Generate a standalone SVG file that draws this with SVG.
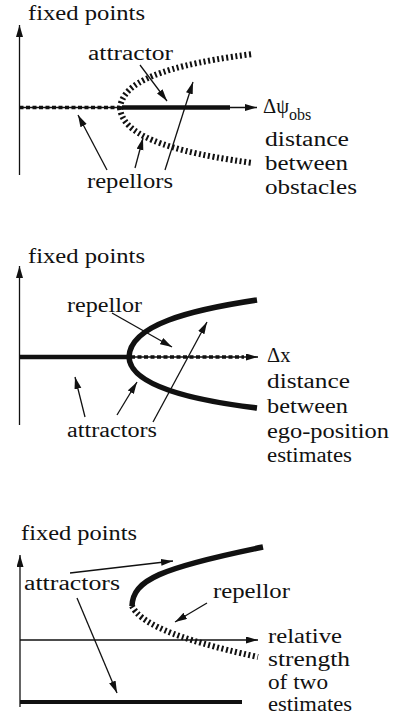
<svg xmlns="http://www.w3.org/2000/svg" width="395" height="718" viewBox="0 0 395 718">
<style>
text{font-family:"Liberation Serif","Times New Roman",serif;font-size:20.5px;fill:#111}
.ptr{stroke:#111;stroke-width:1.3;fill:none;marker-end:url(#ah)}
.axa{stroke:#111;stroke-width:1.3;fill:none;marker-end:url(#ah)}
.att{stroke:#111;stroke-width:4.5;fill:none}
.dot{stroke:#111;stroke-width:3.5;fill:none;stroke-dasharray:4 2.5}
.hat{stroke:#111;stroke-width:6;fill:none;stroke-dasharray:2 2.6}
.sub{font-size:16px}
</style>
<defs>
<marker id="ah" markerUnits="userSpaceOnUse" markerWidth="13" markerHeight="8" refX="12" refY="3.5" orient="auto">
<path d="M0,0 L12,3.5 L0,7 z" fill="#111"/>
</marker>
</defs>

<!-- Panel 1 -->
<g id="p1-axes">
<line class="axa" x1="19.5" y1="175" x2="19.5" y2="25"/>
<line class="axa" x1="19.5" y1="107.5" x2="257" y2="107.5"/>
</g>
<g id="p1-curves">
<line class="dot" x1="19.5" y1="107.5" x2="120" y2="107.5"/>
<line class="att" x1="122" y1="107.5" x2="230" y2="107.5"/>
<path class="hat" d="M120,108 C122,90 140,68 253,54"/>
<path class="hat" d="M120,108 C122,126 140,148 253,163"/>
</g>
<g id="p1-labels">
<text x="28" y="20" textLength="117" lengthAdjust="spacingAndGlyphs">fixed points</text>
<text x="88" y="60" textLength="85" lengthAdjust="spacingAndGlyphs">attractor</text>
<text x="87" y="188" textLength="86" lengthAdjust="spacingAndGlyphs">repellors</text>
<text x="263" y="113">Δψ<tspan class="sub" dy="7">obs</tspan></text>
<text x="265" y="146" textLength="84" lengthAdjust="spacingAndGlyphs">distance</text>
<text x="265" y="170" textLength="83" lengthAdjust="spacingAndGlyphs">between</text>
<text x="265" y="194" textLength="92" lengthAdjust="spacingAndGlyphs">obstacles</text>
</g>

<!-- Panel 2 -->
<g id="p2-axes">
<line class="axa" x1="19.5" y1="425" x2="19.5" y2="266"/>
<line class="axa" x1="19.5" y1="357" x2="258" y2="357"/>
</g>
<g id="p2-curves">
<line class="att" x1="19.5" y1="357" x2="129" y2="357"/>
<line class="dot" x1="131" y1="357" x2="244" y2="357"/>
<path class="att" style="stroke-width:5.5" d="M257,300 C190,310 130,325 129,357 C130,385 190,400 257,408"/>
</g>
<g id="p2-labels">
<text x="28" y="263" textLength="117" lengthAdjust="spacingAndGlyphs">fixed points</text>
<text x="67" y="312" textLength="75" lengthAdjust="spacingAndGlyphs">repellor</text>
<text x="67" y="437" textLength="90" lengthAdjust="spacingAndGlyphs">attractors</text>
<text x="267" y="362">Δx</text>
<text x="267" y="388" textLength="83" lengthAdjust="spacingAndGlyphs">distance</text>
<text x="267" y="413" textLength="81" lengthAdjust="spacingAndGlyphs">between</text>
<text x="267" y="438" textLength="122" lengthAdjust="spacingAndGlyphs">ego-position</text>
<text x="267" y="462" textLength="85" lengthAdjust="spacingAndGlyphs">estimates</text>
</g>

<!-- Panel 3 -->
<g id="p3-axes">
<line class="axa" x1="20" y1="707" x2="20" y2="555"/>
<line class="axa" x1="20" y1="640" x2="258" y2="640"/>
</g>
<g id="p3-curves">
<line class="att" style="stroke-width:4" x1="20" y1="702" x2="242" y2="702"/>
<path class="att" style="stroke-width:5.5" d="M132,606 C133,580 160,568 263,547"/>
<path class="hat" d="M132,606 C140,622 170,638 258,657"/>
</g>
<g id="p3-labels">
<text x="21" y="540" textLength="116" lengthAdjust="spacingAndGlyphs">fixed points</text>
<text x="24" y="590" textLength="96" lengthAdjust="spacingAndGlyphs">attractors</text>
<text x="213" y="598" textLength="77" lengthAdjust="spacingAndGlyphs">repellor</text>
<text x="268" y="643" textLength="74" lengthAdjust="spacingAndGlyphs">relative</text>
<text x="268" y="666" textLength="82" lengthAdjust="spacingAndGlyphs">strength</text>
<text x="268" y="689" textLength="60" lengthAdjust="spacingAndGlyphs">of two</text>
<text x="268" y="711" textLength="84" lengthAdjust="spacingAndGlyphs">estimates</text>
</g>

<g id="connectors">
<line class="ptr" x1="140" y1="65" x2="167" y2="101"/>
<line class="ptr" x1="107" y1="170" x2="78" y2="115"/>
<line class="ptr" x1="135" y1="168" x2="143" y2="138"/>
<line class="ptr" x1="165" y1="170" x2="193" y2="82"/>
<line class="ptr" x1="112" y1="313" x2="172" y2="347"/>
<line class="ptr" x1="85" y1="417" x2="75" y2="377"/>
<line class="ptr" x1="117" y1="415" x2="137" y2="382"/>
<line class="ptr" x1="153" y1="422" x2="207" y2="322"/>
<line class="ptr" x1="70" y1="573" x2="173" y2="561"/>
<line class="ptr" x1="77" y1="598" x2="117" y2="693"/>
<line class="ptr" x1="207" y1="603" x2="175" y2="622"/>
</g>
</svg>
